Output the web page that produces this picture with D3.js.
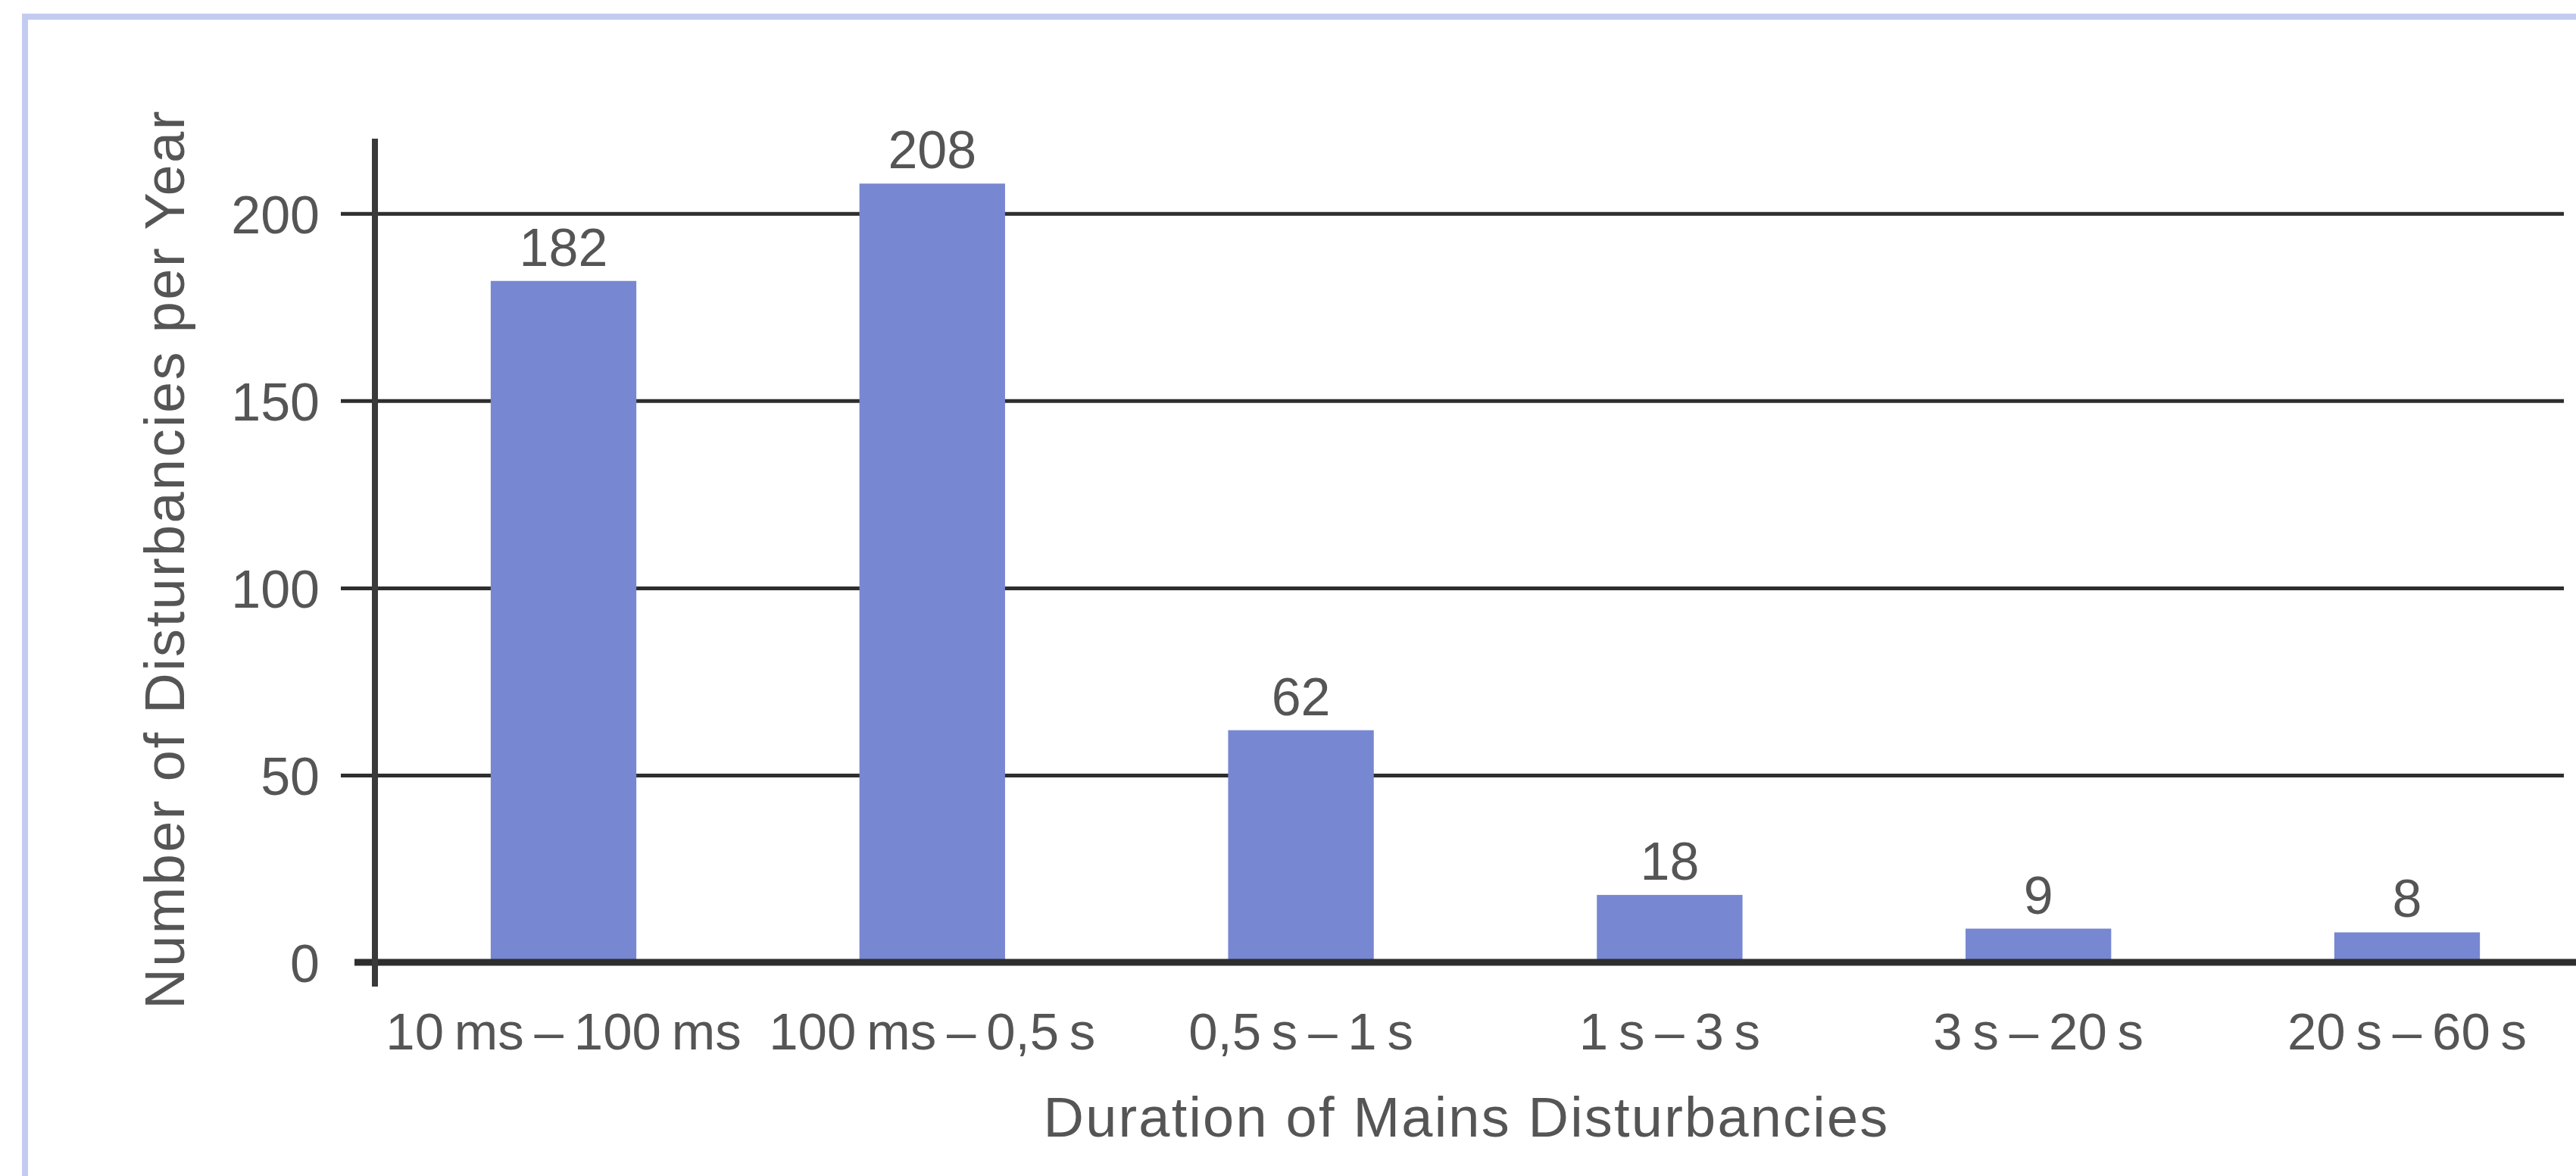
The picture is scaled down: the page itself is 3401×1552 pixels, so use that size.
<!DOCTYPE html>
<html>
<head>
<meta charset="utf-8">
<script src="https://cdn.jsdelivr.net/npm/d3@7"></script>
<style>
  html, body { margin: 0; padding: 0; background: #fff; }
  svg { display: block; }
  text { font-family: 'Liberation Sans', Arial, Helvetica, sans-serif; fill: #555; }
</style>
</head>
<body>
<svg id="container" width="3401" height="1552"></svg>
<script>
(function (d3) {
  'use strict';

  // durations (thin spaces between number and unit, like the print)
  const categories = [
    '10\u2009ms\u2009\u2013\u2009100\u2009ms',
    '100\u2009ms\u2009\u2013\u20090,5\u2009s',
    '0,5\u2009s\u2009\u2013\u20091\u2009s',
    '1\u2009s\u2009\u2013\u20093\u2009s',
    '3\u2009s\u2009\u2013\u200920\u2009s',
    '20\u2009s\u2009\u2013\u200960\u2009s',
  ];
  const values = [182, 208, 62, 18, 9, 8];
  const yTicks = [0, 50, 100, 150, 200];

  const xTitle = 'Duration of Mains Disturbancies';
  const yTitle = 'Number of Disturbancies per Year';

  const BAR_COLOR = '#7887d2';
  const LINE_COLOR = '#2e2e2e';
  const FRAME_COLOR = '#c3cbef';

  const svg = d3.select('#container');
  const width = +svg.attr('width');
  const height = +svg.attr('height');

  const axisX = 495;
  const gridLeft = 450;
  const gridRight = 3385;

  const y = d3.scaleLinear().domain([0, 220]).range([1270, 183]);
  const x = d3.scaleBand()
    .domain(categories)
    .range([axisX, 3427])
    .paddingInner(0.605)
    .paddingOuter(0.314);

  // light blue frame of the printed figure
  svg.append('path')
    .attr('d', `M33,${height + 10} V22 H${width + 10}`)
    .attr('fill', 'none')
    .attr('stroke', FRAME_COLOR)
    .attr('stroke-width', 8);

  // gridlines + tick labels
  const yAxis = d3.axisLeft(y)
    .tickValues(yTicks)
    .tickSize(-(gridRight - gridLeft))
    .tickPadding(28)
    .tickFormat(d3.format('d'));

  const gy = svg.append('g')
    .attr('transform', `translate(${gridLeft},0)`)
    .call(yAxis);
  gy.select('.domain').remove();
  gy.selectAll('.tick line')
    .attr('stroke', LINE_COLOR)
    .attr('stroke-width', 5)
    .attr('display', (d) => (d === 0 ? 'none' : null));
  gy.selectAll('.tick text')
    .attr('font-size', 70)
    .attr('fill', '#555')
    .attr('dy', '0.36em');

  // bars
  svg.selectAll('rect.bar')
    .data(values)
    .enter()
    .append('rect')
    .attr('class', 'bar')
    .attr('x', (d, i) => x(categories[i]))
    .attr('y', (d) => y(d))
    .attr('width', x.bandwidth())
    .attr('height', (d) => y(0) - y(d))
    .attr('fill', BAR_COLOR);

  // value labels
  svg.selectAll('text.value')
    .data(values)
    .enter()
    .append('text')
    .attr('class', 'value')
    .attr('x', (d, i) => x(categories[i]) + x.bandwidth() / 2)
    .attr('y', (d) => y(d) - 20)
    .attr('text-anchor', 'middle')
    .attr('font-size', 70)
    .text((d) => d);

  // baseline and y axis on top of the bars
  svg.append('line')
    .attr('x1', 468)
    .attr('x2', width)
    .attr('y1', y(0))
    .attr('y2', y(0))
    .attr('stroke', LINE_COLOR)
    .attr('stroke-width', 9);

  svg.append('line')
    .attr('x1', axisX)
    .attr('x2', axisX)
    .attr('y1', y(220))
    .attr('y2', y(0) + 32)
    .attr('stroke', '#3a3a3a')
    .attr('stroke-width', 8);

  // category labels
  const gx = svg.append('g')
    .attr('transform', `translate(0,${y(0)})`)
    .call(d3.axisBottom(x).tickSize(0).tickPadding(115));
  gx.select('.domain').remove();
  gx.selectAll('.tick text')
    .attr('font-size', 69)
    .attr('fill', '#555')
    .attr('dy', 0);

  // axis titles
  svg.append('text')
    .attr('x', 1936)
    .attr('y', 1500)
    .attr('text-anchor', 'middle')
    .attr('font-size', 74)
    .attr('letter-spacing', 2.2)
    .text(xTitle);

  svg.append('text')
    .attr('transform', 'translate(243,738) rotate(-90)')
    .attr('text-anchor', 'middle')
    .attr('font-size', 74)
    .attr('letter-spacing', 2.4)
    .text(yTitle);

}(d3));
</script>
</body>
</html>
